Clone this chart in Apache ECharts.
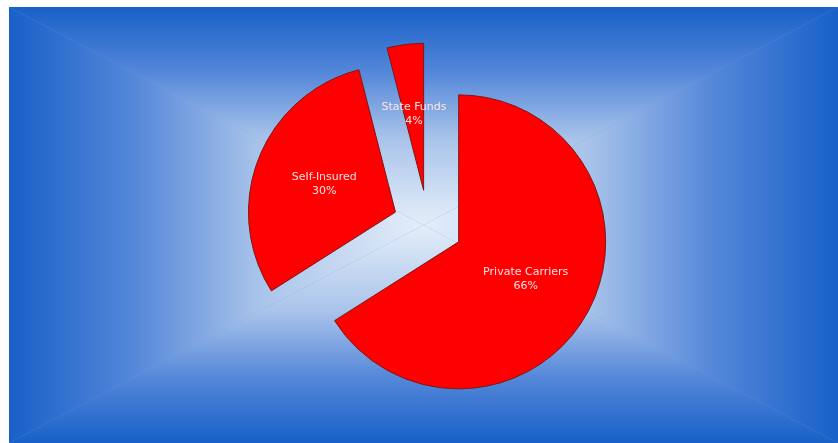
<!DOCTYPE html>
<html>
<head>
<meta charset="utf-8">
<script src="https://cdn.jsdelivr.net/npm/echarts@6/dist/echarts.min.js"></script>
<style>
html,body{margin:0;padding:0;background:#ffffff;}
#chart{width:838px;height:443px;}
</style>
</head>
<body>
<div id="chart"></div>
<script>
var categories = ['Private Carriers', 'Self-Insured', 'State Funds'];
var values = [66, 30, 4];

var chart = echarts.init(document.getElementById('chart'));

// panel geometry for rectangular gradient background
var L = 9, T = 7, R = 838, B = 443;
var CX = (L + R) / 2, CY = (T + B) / 2;
var stops = [
  {offset: 0, color: '#1860c8'},
  {offset: 0.3, color: '#5487d9'},
  {offset: 0.6, color: '#a8c3ea'},
  {offset: 1, color: '#e4eef9'}
];
function grad(x, y, x2, y2) {
  return {type: 'linear', x: x, y: y, x2: x2, y2: y2, colorStops: stops};
}

var data = categories.map(function (c, i) {
  return {name: c, value: values[i], selected: true};
});

chart.setOption({
  animation: false,
  backgroundColor: '#ffffff',
  graphic: [
    {type: 'rect', z: -10, shape: {x: L, y: T, width: R - L, height: B - T}, style: {fill: '#6f9ae2'}},
    {type: 'polygon', z: -9, shape: {points: [[L, T], [R, T], [CX, CY]]}, style: {fill: grad(0, 0, 0, 1)}},
    {type: 'polygon', z: -9, shape: {points: [[L, B], [R, B], [CX, CY]]}, style: {fill: grad(0, 1, 0, 0)}},
    {type: 'polygon', z: -9, shape: {points: [[L, T], [L, B], [CX, CY]]}, style: {fill: grad(0, 0, 1, 0)}},
    {type: 'polygon', z: -9, shape: {points: [[R, T], [R, B], [CX, CY]]}, style: {fill: grad(1, 0, 0, 0)}}
  ],
  series: [{
    type: 'pie',
    center: [428, 225],
    radius: 147,
    startAngle: 90,
    clockwise: true,
    selectedMode: 'multiple',
    selectedOffset: 35,
    avoidLabelOverlap: false,
    data: data,
    itemStyle: {color: '#ff0000', borderColor: '#7a1a1a', borderWidth: 1},
    select: {itemStyle: {color: '#ff0000', borderColor: '#7a1a1a', borderWidth: 1}},
    emphasis: {disabled: true, scale: false},
    label: {
      show: true,
      position: 'inside',
      color: '#fde4e4',
      fontFamily: 'DejaVu Sans',
      fontSize: 11,
      lineHeight: 14,
      align: 'center',
      formatter: function (p) { return p.name + '\n' + p.value + '%'; }
    },
    labelLine: {show: false}
  }]
});
</script>
</body>
</html>
